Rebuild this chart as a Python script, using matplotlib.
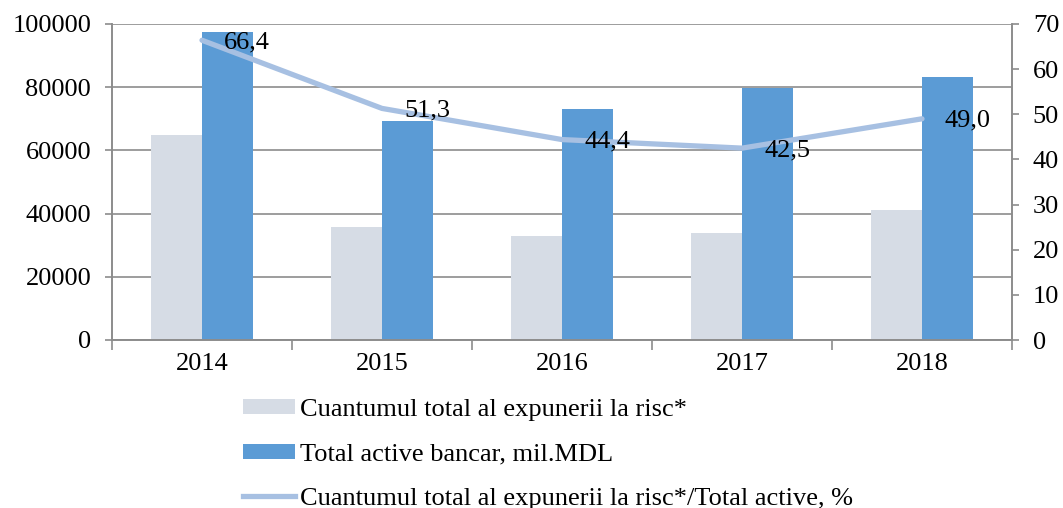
import matplotlib
matplotlib.use("Agg")
import matplotlib.pyplot as plt
from matplotlib.lines import Line2D
from matplotlib.patches import Patch
import numpy as np

years = ["2014", "2015", "2016", "2017", "2018"]
expunere = [65000, 35800, 32900, 34000, 41100]
active = [97400, 69200, 73100, 79600, 83300]
raport = [66.4, 51.3, 44.4, 42.5, 49.0]
raport_labels = ["66,4", "51,3", "44,4", "42,5", "49,0"]

lbl_exp = "Cuantumul total al expunerii la risc*"
lbl_act = "Total active bancar, mil.MDL"
lbl_rap = "Cuantumul total al expunerii la risc*/Total active, %"

plt.rcParams['font.family'] = ['Liberation Serif', 'DejaVu Serif']
FS = 19
GRID = '#8c8c8c'
C_GRAY = '#D6DCE5'
C_BLUE = '#5B9BD5'
C_LINE = '#A7C0E2'

fig = plt.figure(figsize=(10.63, 5.08), dpi=100)
ax = fig.add_axes([112/1063, (508-340)/508, 900/1063, 316/508])
ax2 = ax.twinx()

x = np.arange(len(years))
w = 0.285
ax.bar(x - w/2, expunere, width=w, color=C_GRAY, zorder=2)
ax.bar(x + w/2, active, width=w, color=C_BLUE, zorder=2)

ax.set_xlim(-0.5, len(years) - 0.5)
ax.set_ylim(0, 100000)
ax.set_yticks(np.arange(0, 100001, 20000))
ax.set_xticks(x)
ax.set_xticklabels(years)
ax.set_xticks(np.arange(-0.5, len(years), 1.0), minor=True)
ax.yaxis.grid(True, color=GRID, linewidth=1.2, zorder=0)
ax.set_axisbelow(True)
ax.tick_params(axis='x', which='major', length=0, labelsize=FS, pad=9)
ax.tick_params(axis='x', which='minor', length=7, color=GRID, width=1.2)
ax.tick_params(axis='y', length=5, color=GRID, width=1.2, labelsize=FS, pad=10)

ax2.plot(x, raport, color=C_LINE, linewidth=3.8, solid_joinstyle='round',
         solid_capstyle='round', zorder=3)
ax2.set_ylim(0, 70)
ax2.set_yticks(np.arange(0, 71, 10))
ax2.tick_params(axis='y', length=5, color=GRID, width=1.2, labelsize=FS, pad=10)

for xi, v, t in zip(x, raport, raport_labels):
    ax2.annotate(t, (xi, v), xytext=(16, -1.5), textcoords='offset points',
                 ha='left', va='center', fontsize=FS, color='black', zorder=4)

for a in (ax, ax2):
    for s in a.spines.values():
        s.set_color(GRID)
        s.set_linewidth(1.2)
    a.spines['top'].set_visible(False)

handles = [Patch(facecolor=C_GRAY, edgecolor='none'),
           Patch(facecolor=C_BLUE, edgecolor='none'),
           Line2D([0], [0], color=C_LINE, linewidth=3.8)]
fig.legend(handles, [lbl_exp, lbl_act, lbl_rap], loc='upper left',
           bbox_to_anchor=(243/1063, 1 - 399/508), frameon=False,
           fontsize=FS, handlelength=1.97, handleheight=0.5, handletextpad=0.19,
           labelspacing=0.85, borderaxespad=0, borderpad=0)

fig.savefig("out.png", dpi=100)
